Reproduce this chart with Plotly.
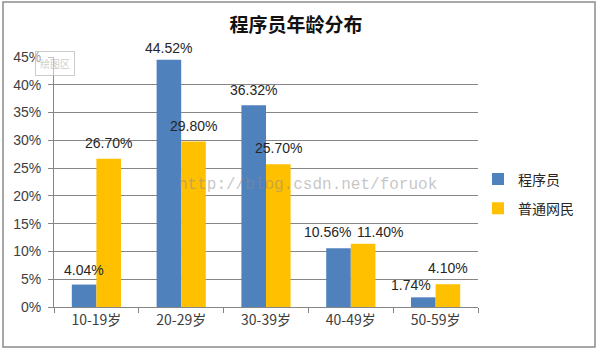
import plotly.graph_objects as go

categories = ["10-19岁", "20-29岁", "30-39岁", "40-49岁", "50-59岁"]
programmers = [4.04, 44.52, 36.32, 10.56, 1.74]
netizens = [26.70, 29.80, 25.70, 11.40, 4.10]
series_names = ["程序员", "普通网民"]
y_ticks = [0, 5, 10, 15, 20, 25, 30, 35, 40, 45]

BLUE = "#4F81BD"
GOLD = "#FFC000"
CJK = "Noto Sans CJK SC, Liberation Sans, sans-serif"
NUM = "Liberation Sans, Arial, sans-serif"

# label nudges (style only)
prog_dx = [0, 0, 0, -11, -12]
prog_dy = [15, 12, 15, 16, 12]
net_dx = [0, 0, 0, 17, 0]
net_dy = [16, 15, 16, 12, 16]

W, H = 600, 353
L, R, T, B = 54, 122, 57, 46
pw, ph = W - L - R, H - T - B

fig = go.Figure()
fig.add_trace(go.Bar(x=categories, y=programmers, name=series_names[0],
                     marker=dict(color=BLUE, line=dict(width=0)),
                     legendgroup="a"))
fig.add_trace(go.Bar(x=categories, y=netizens, name=series_names[1],
                     marker=dict(color=GOLD, line=dict(width=0)),
                     legendgroup="b"))

half = pw / len(categories) * (1 - 0.42) / 4
annotations = []
for vals, sign, dxs, dys in [(programmers, -1, prog_dx, prog_dy), (netizens, 1, net_dx, net_dy)]:
    for c, v, dx, dy in zip(categories, vals, dxs, dys):
        annotations.append(dict(x=c, y=v, xref="x", yref="y", text=f"{v:.2f}%",
                                showarrow=False, xshift=sign * half + dx, yshift=dy,
                                yanchor="middle", xanchor="center",
                                font=dict(family=NUM, size=14, color="#262626")))

def px2x(p):
    return (p - L) / pw

def py2y(p):
    return (H - B - p) / ph

# watermark
annotations.append(dict(x=px2x(307), y=py2y(185), xref="paper", yref="paper",
                        text="http://blog.csdn.net/foruok", showarrow=False,
                        font=dict(family="Liberation Mono, monospace", size=16,
                                  color="rgba(140,140,140,0.5)")))
# plot-area tooltip
annotations.append(dict(x=px2x(35), y=py2y(51), xref="paper", yref="paper",
                        text="绘图区", showarrow=False,
                        bgcolor="rgba(255,255,255,0.5)", bordercolor="rgba(190,190,190,0.8)",
                        borderwidth=1, borderpad=4,
                        font=dict(family=CJK, size=10, color="rgba(170,170,170,0.6)")))

fig.update_layout(
    width=W, height=H,
    margin=dict(l=L, r=R, t=T, b=B),
    paper_bgcolor="white", plot_bgcolor="white",
    barmode="group", bargap=0.42, bargroupgap=0,
    title=dict(text="<b>程序员年龄分布</b>", x=296 / W, xanchor="center",
               y=1 - 25 / H, yanchor="middle",
               font=dict(family=CJK, size=19, color="#111111")),
    legend=dict(x=1.0, xanchor="left", y=py2y(194), yanchor="middle",
                font=dict(family=CJK, size=14, color="#262626"),
                traceorder="grouped", tracegroupgap=8,
                bgcolor="rgba(0,0,0,0)"),
    xaxis=dict(type="category", tickson="boundaries", ticks="outside", ticklen=5,
               tickcolor="#868686", showline=True, linecolor="#868686", linewidth=1,
               tickfont=dict(family=CJK, size=14, color="#404040"),
               showgrid=False, fixedrange=True),
    yaxis=dict(range=[0, 45], tickvals=y_ticks, ticktext=[f"{t}%" for t in y_ticks],
               ticks="outside", ticklen=5, tickcolor="#868686",
               showline=True, linecolor="#868686", linewidth=1,
               showgrid=True, gridcolor="#868686", gridwidth=1, zeroline=False,
               tickfont=dict(family=NUM, size=14, color="#404040"),
               ticklabelstandoff=4),
    annotations=annotations,
    shapes=[dict(type="rect", xref="paper", yref="paper",
                 x0=px2x(3), x1=px2x(595), y0=py2y(347), y1=py2y(2),
                 line=dict(color="#8c8c8c", width=1.5), layer="below")],
)

fig.write_html("out.html")
